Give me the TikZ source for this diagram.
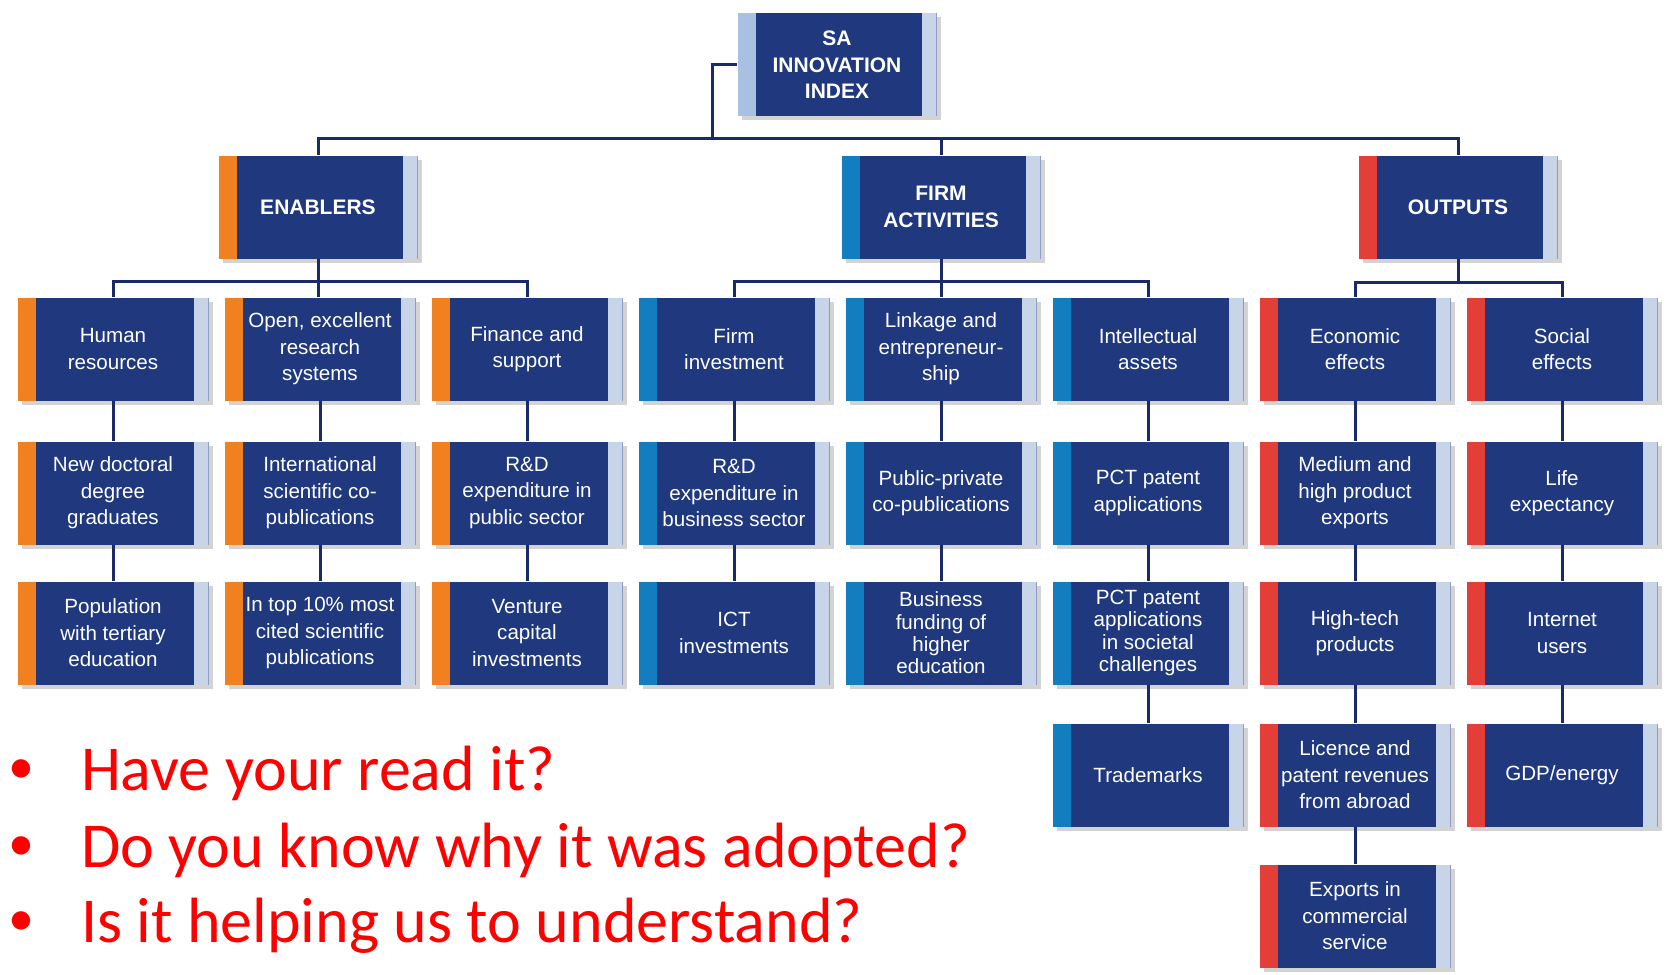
\documentclass[tikz,border=0pt]{standalone}
\usepackage{fontspec}
\setmainfont{Liberation Sans}
\newfontfamily\bulletfont{Carlito}
\usetikzlibrary{shadows}
\definecolor{navy}{RGB}{31,56,126}
\definecolor{lineblue}{RGB}{26,42,104}
\definecolor{enorange}{RGB}{240,128,32}
\definecolor{firmblue}{RGB}{18,126,192}
\definecolor{outred}{RGB}{228,62,56}
\definecolor{paleblue}{RGB}{200,212,232}
\definecolor{topblue}{RGB}{168,192,226}
\definecolor{qred}{RGB}{255,0,0}
\newcommand{\qdot}{\makebox[36.5pt][l]{\raisebox{3.5pt}{\fontsize{26}{26}\selectfont •}}}
\tikzset{
	box/.style={fill=navy, text=white, minimum width=95.5pt, minimum height=51.5pt, inner sep=0pt, align=center,
		font=\fontsize{10.3}{13.2}\selectfont,
		drop shadow={shadow xshift=2pt, shadow yshift=-2pt, opacity=.35},
		path picture={\fill[#1] (path picture bounding box.south west) rectangle ([xshift=9pt]path picture bounding box.north west);
			\fill[paleblue] (path picture bounding box.south east) rectangle ([xshift=-7.5pt]path picture bounding box.north east);}},
	head/.style={box=#1, minimum width=99.5pt, font=\fontsize{10.5}{13.2}\selectfont\bfseries},
	tight/.style={font=\fontsize{10.3}{11.2}\selectfont},
	link/.style={draw=lineblue, line width=1.5pt},
	question/.style={anchor=base west, text=qred, font=\bulletfont\fontsize{32}{38}\selectfont}
}
\begin{document}
\begin{tikzpicture}[x=.5pt, y=-.5pt]
	\useasboundingbox (0,0) rectangle (1669,974);
	\node[head=topblue]  (idx)  at (837,65)  {SA\\INNOVATION\\INDEX};
	\node[head=enorange] (enab) at (318,207) {ENABLERS};
	\node[head=firmblue] (firm) at (941,207) {FIRM\\ACTIVITIES};
	\node[head=outred]   (outp) at (1458,207) {OUTPUTS};
	% enablers
	\node[box=enorange] (hr)    at (113,349)  {Human\\resources};
	\node[box=enorange] (phd)   at (113,493)  {New doctoral\\degree\\graduates};
	\node[box=enorange] (tert)  at (113,633)  {Population\\with tertiary\\education};
	\node[box=enorange] (oers)  at (320,349)  {Open, excellent\\research\\systems};
	\node[box=enorange] (copub) at (320,493)  {International\\scientific co-\\publications};
	\node[box=enorange] (top10) at (320,633)  {In top 10\% most\\cited scientific\\publications};
	\node[box=enorange] (fin)   at (527,349)  {Finance and\\support};
	\node[box=enorange] (rdpub) at (527,493)  {R\&D\\expenditure in\\public sector};
	\node[box=enorange] (vc)    at (527,633)  {Venture\\capital\\investments};
	% firm activities
	\node[box=firmblue] (finv)  at (734,349)  {Firm\\investment};
	\node[box=firmblue] (rdbus) at (734,493)  {R\&D\\expenditure in\\business sector};
	\node[box=firmblue] (ict)   at (734,633)  {ICT\\investments};
	\node[box=firmblue] (lnk)   at (941,349)  {Linkage and\\entrepreneur-\\ship};
	\node[box=firmblue] (ppub)  at (941,493)  {Public-private\\co-publications};
	\node[box=firmblue, tight] (bfund) at (941,633) {Business\\funding of\\higher\\education};
	\node[box=firmblue] (ia)    at (1148,349) {Intellectual\\assets};
	\node[box=firmblue] (pct)   at (1148,493) {PCT patent\\applications};
	\node[box=firmblue, tight] (pctsc) at (1148,633) {PCT patent\\applications\\in societal\\challenges};
	\node[box=firmblue] (tm)    at (1148,775) {Trademarks};
	% outputs
	\node[box=outred] (eco)   at (1355,349) {Economic\\effects};
	\node[box=outred] (medhi) at (1355,493) {Medium and\\high product\\exports};
	\node[box=outred] (htech) at (1355,633) {High-tech\\products};
	\node[box=outred] (lic)   at (1355,775) {Licence and\\patent revenues\\from abroad};
	\node[box=outred] (exp)   at (1355,916) {Exports in\\commercial\\service};
	\node[box=outred] (soc)   at (1562,349) {Social\\effects};
	\node[box=outred] (life)  at (1562,493) {Life\\expectancy};
	\node[box=outred] (inet)  at (1562,633) {Internet\\users};
	\node[box=outred] (gdp)   at (1562,775) {GDP/energy};
	% tree
	\coordinate (bar) at (712,138);
	\draw[link] (idx.west) -| (bar);
	\draw[link] (enab.north) |- (bar) -| (outp.north);
	\draw[link] (firm.north) -- (firm.north |- bar);
	\draw[link] (enab.south) -- ++(0,23) -| (hr.north);
	\draw[link] (enab.south) -- ++(0,23) -| (fin.north);
	\draw[link] (firm.south) -- ++(0,23) -| (finv.north);
	\draw[link] (firm.south) -- ++(0,23) -| (ia.north);
	\draw[link] (firm.south) -- (lnk.north);
	\draw[link] (outp.south) -- ++(0,24) -| (eco.north);
	\draw[link] (outp.south) -- ++(0,24) -| (soc.north);
	\draw[link] (enab.south) -- (enab.south |- oers.north);
	\draw[link] (hr) -- (phd) -- (tert);
	\draw[link] (oers) -- (copub) -- (top10);
	\draw[link] (fin) -- (rdpub) -- (vc);
	\draw[link] (finv) -- (rdbus) -- (ict);
	\draw[link] (lnk) -- (ppub) -- (bfund);
	\draw[link] (ia) -- (pct) -- (pctsc) -- (tm);
	\draw[link] (eco) -- (medhi) -- (htech) -- (lic) -- (exp);
	\draw[link] (soc) -- (life) -- (inet) -- (gdp);
	% questions
	\node[question] (q1) at (1,790) {\qdot Have your read it?};
	\node[question] (q2) at (1,867) {\qdot Do you know why it was adopted?};
	\node[question] (q3) at (1,942) {\qdot Is it helping us to understand?};
\end{tikzpicture}
\end{document}
